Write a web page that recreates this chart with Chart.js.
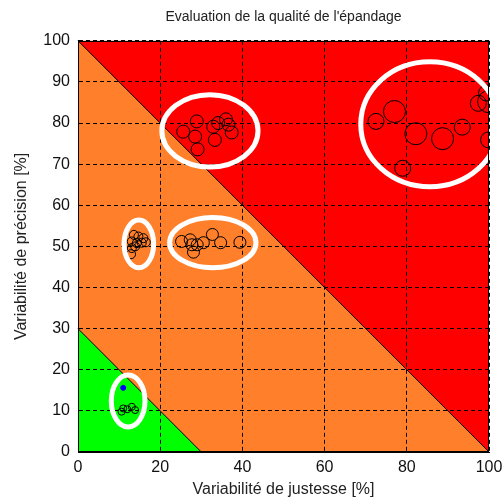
<!DOCTYPE html>
<html lang="fr">
<head>
  <meta charset="UTF-8">
  <title>Evaluation de la qualité de l'épandage</title>
  <style>
    html, body { margin: 0; padding: 0; background: #fff; }
    #wrap { width: 503px; height: 504px; }
  </style>
  <script src="https://cdn.jsdelivr.net/npm/chart.js"></script>
</head>
<body>
  <div id="wrap"><canvas id="chart" width="503" height="504"></canvas></div>

  <script>
    // valeurs (justesse %, précision %)
    const topX = [25.6, 28.9, 28.5, 29.1, 32.9, 33.3, 34.1, 36.0, 36.6, 37.4];
    const topY = [77.9, 80.4, 76.7, 73.6, 79.1, 75.9, 80.0, 80.9, 79.6, 77.7];
    const topR = [6.5, 6.5, 6.5, 6.5, 6.5, 6.5, 6.5, 6.5, 6.5, 6.5];

    const rightX = [72.5, 77.0, 82.2, 88.7, 93.5, 79.0, 97.4, 99.4, 99.9, 99.9];
    const rightY = [80.4, 82.8, 77.4, 76.2, 79.0, 69.0, 84.8, 87.3, 85.2, 75.9];
    const rightR = [8, 11, 11, 11, 8, 8, 8, 8, 11, 8];

    const midX = [25.2, 27.3, 27.7, 28.1, 29.0, 30.5, 32.7, 34.7, 39.4];
    const midY = [51.2, 51.6, 50.4, 48.6, 50.4, 50.9, 52.9, 50.9, 51.0];
    const midR = [6, 6, 6, 6, 6, 6, 6, 6, 6];

    const leftX = [13.6, 14.7, 15.9, 13.1, 14.3, 15.5, 13.1, 13.9, 12.9, 16.5];
    const leftY = [52.8, 52.4, 52.0, 51.2, 50.8, 50.9, 49.6, 50.0, 48.1, 51.0];
    const leftR = [4.5, 4.5, 4.5, 4.5, 4.5, 4.5, 4.5, 4.5, 4.5, 4.5];

    const lowX = [10.6, 11.0, 12.0, 13.1, 13.9];
    const lowY = [9.8, 10.6, 10.4, 11.0, 10.2];
    const lowR = [3.5, 3.5, 3.5, 3.5, 3.5];

    const refX = [11.0];
    const refY = [15.6];

    // zones : vert sous x+y=30, orange sous x+y=100, rouge au-dessus
    const greenLimit = 30;
    const orangeLimit = 100;

    // ellipses blanches entourant les groupes (centre et demi-axes en %)
    const ellipseCx = [32.1, 85.6, 14.8, 32.8, 12.2];
    const ellipseCy = [78.1, 79.7, 50.6, 50.9, 12.4];
    const ellipseRx = [11.7, 16.8, 3.6, 10.5, 4.1];
    const ellipseRy = [8.8, 15.2, 5.8, 6.1, 6.3];

    function pts(xs, ys, rs) {
      return xs.map((x, i) => ({ x: x, y: ys[i], r: rs ? rs[i] : 2.5 }));
    }

    const zonesPlugin = {
      id: 'zones',
      beforeDraw(chart) {
        const { ctx, chartArea: a, scales: { x, y } } = chart;
        ctx.save();
        ctx.fillStyle = '#ff0000';
        ctx.fillRect(a.left, a.top, a.right - a.left, a.bottom - a.top);

        const tri = (lim, color) => {
          ctx.beginPath();
          ctx.moveTo(x.getPixelForValue(0), y.getPixelForValue(0));
          ctx.lineTo(x.getPixelForValue(0), y.getPixelForValue(lim));
          ctx.lineTo(x.getPixelForValue(lim), y.getPixelForValue(0));
          ctx.closePath();
          ctx.fillStyle = color;
          ctx.fill();
          ctx.beginPath();
          ctx.moveTo(x.getPixelForValue(0), y.getPixelForValue(lim));
          ctx.lineTo(x.getPixelForValue(lim), y.getPixelForValue(0));
          ctx.strokeStyle = '#000';
          ctx.lineWidth = 1;
          ctx.stroke();
        };
        tri(orangeLimit, '#ff7f2a');
        tri(greenLimit, '#00ff00');
        ctx.restore();
      },
      afterDatasetsDraw(chart) {
        const { ctx, scales: { x, y } } = chart;
        ctx.save();
        ctx.strokeStyle = '#fff';
        ctx.lineWidth = 5;
        ellipseCx.forEach((cx, i) => {
          const px = x.getPixelForValue(cx);
          const py = y.getPixelForValue(ellipseCy[i]);
          const rx = Math.abs(x.getPixelForValue(cx + ellipseRx[i]) - px);
          const ry = Math.abs(y.getPixelForValue(ellipseCy[i] + ellipseRy[i]) - py);
          ctx.beginPath();
          ctx.ellipse(px, py, rx, ry, 0, 0, Math.PI * 2);
          ctx.stroke();
        });
        ctx.restore();
      },
      afterDraw(chart) {
        const { ctx, chartArea: a } = chart;
        ctx.save();
        ctx.strokeStyle = '#000';
        ctx.lineWidth = 1;
        ctx.strokeRect(Math.round(a.left) + 0.5, Math.round(a.top) + 0.5,
          Math.round(a.right - a.left) - 1, Math.round(a.bottom - a.top) - 1);
        ctx.restore();
      }
    };

    const circle = (data, color, fill) => ({
      data: data,
      borderColor: color,
      backgroundColor: fill || 'rgba(0,0,0,0)',
      borderWidth: 1,
      clip: 0
    });

    const tickFont = { family: "'Liberation Sans', Arial, sans-serif", size: 16 };

    new Chart(document.getElementById('chart'), {
      type: 'bubble',
      data: {
        datasets: [
          circle(pts(topX, topY, topR), '#000'),
          circle(pts(rightX, rightY, rightR), '#000'),
          circle(pts(midX, midY, midR), '#000'),
          circle(pts(leftX, leftY, leftR), '#000'),
          circle(pts(lowX, lowY, lowR), '#000'),
          circle(pts(refX, refY), '#0000ff', '#0000ff')
        ]
      },
      plugins: [zonesPlugin],
      options: {
        responsive: false,
        animation: false,
        events: [],
        layout: { padding: { left: 0, right: 14, top: 0, bottom: 0 } },
        plugins: {
          legend: { display: false },
          tooltip: { enabled: false },
          title: {
            display: true,
            fullSize: false,
            text: "Evaluation de la qualité de l'épandage",
            color: '#222',
            font: { family: "'Liberation Sans', Arial, sans-serif", size: 14, weight: 'normal' },
            padding: { top: 9, bottom: 15 }
          }
        },
        scales: {
          x: {
            type: 'linear',
            min: 0, max: 100,
            afterFit: s => { s.height = 52; s.paddingLeft = 0; s.paddingRight = 0; },
            ticks: { stepSize: 20, padding: 6, color: '#111', font: tickFont },
            grid: { color: '#000', lineWidth: 1, drawTicks: false },
            border: { color: '#000', width: 1, dash: [4, 3] },
            title: {
              display: true,
              text: 'Variabilité de justesse [%]',
              color: '#222',
              font: tickFont,
              padding: { top: 0, bottom: 5 }
            }
          },
          y: {
            type: 'linear',
            min: 0, max: 100,
            afterFit: s => { s.width = 78; s.paddingTop = 0; s.paddingBottom = 0; },
            ticks: { stepSize: 10, padding: 8, color: '#111', font: tickFont },
            grid: { color: '#000', lineWidth: 1, drawTicks: false },
            border: { color: '#000', width: 1, dash: [4, 3] },
            title: {
              display: true,
              text: 'Variabilité de précision [%]',
              color: '#222',
              font: tickFont,
              padding: { top: 12, bottom: 0 }
            }
          }
        }
      }
    });
  </script>
</body>
</html>
